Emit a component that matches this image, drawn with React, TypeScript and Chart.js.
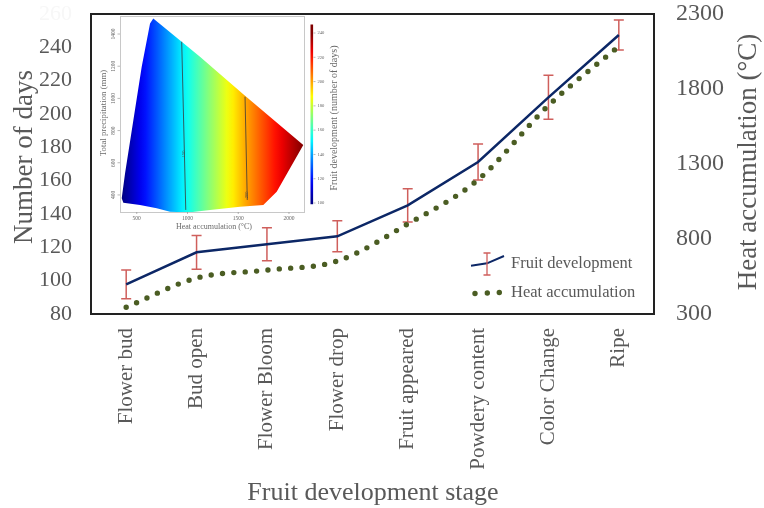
import React, { useEffect, useRef } from 'react';
import { Chart, registerables } from 'chart.js';

Chart.register(...registerables);

// ---------- main chart data ----------
const stages = ['Flower bud', 'Bud open', 'Flower Bloom', 'Flower drop', 'Fruit appeared', 'Powdery content', 'Color Change', 'Ripe'];
const fruitDays = [97.8, 117, 121.8, 126.6, 145.2, 171.2, 210, 247.4];
const fruitErr = [8.6, 10.1, 9.9, 9.3, 10, 10.8, 13.2, 9];
const heatAcc = [345, 540, 593, 653, 900, 1195, 1690, 2085];
const daysRange = [80, 260];
const daysStep = 20;
const heatRange = [300, 2300];
const heatStep = 500;

// ---------- inset (heat map) data ----------
const insetHeatRange = [335, 2148];
const insetPrecipRange = [294, 1512];
const insetHeatTicks = [500, 1000, 1500, 2000];
const insetPrecipTicks = [400, 600, 800, 1000, 1200, 1400];
const regionHeat = [663, 1123, 1567, 2141, 1879, 1747, 1517, 1222, 1025, 828, 697, 532, 368, 352, 385, 467, 549, 631];
const regionPrecip = [1497, 1259, 1017, 711, 420, 338, 327, 307, 292, 295, 317, 338, 352, 379, 535, 866, 1197, 1466];
const contourAHeat = [943, 983];
const contourAPrecip = [1352, 307];
const contourBHeat = [1567, 1589];
const contourBPrecip = [1010, 369];
const contourLabels = ['150', '200'];
const contourLabelHeat = [968, 1586];
const contourLabelPrecip = [655, 400];
const anchorDays = [100, 150, 200, 240];
const anchorHeat = [352, 943, 1578, 2141];
const colorbarTicks = [100, 120, 140, 160, 180, 200, 220, 240];
const colorbarLimits = [99, 247];

const SERIF = '"Liberation Serif", "Times New Roman", serif';
const GRAY = '#595959';
const NAVY = '#0c2766';
const OLIVE = '#4b5d23';
const ERR = '#cf5f5c';

function jet(t: number) {
  const c = (v: number) => Math.round(255 * Math.max(0, Math.min(1, v)));
  return `rgb(${c(1.5 - Math.abs(4 * t - 3))},${c(1.5 - Math.abs(4 * t - 2))},${c(1.5 - Math.abs(4 * t - 1))})`;
}

function heatForDays(d: number) {
  for (let i = 0; i < anchorDays.length - 1; i++) {
    if (d <= anchorDays[i + 1]) {
      const f = (d - anchorDays[i]) / (anchorDays[i + 1] - anchorDays[i]);
      return anchorHeat[i] + f * (anchorHeat[i + 1] - anchorHeat[i]);
    }
  }
  return anchorHeat[anchorHeat.length - 1];
}

function regionGradient(chart: any) {
  const { ctx, chartArea, scales } = chart;
  if (!chartArea || !scales.x) return '#0000ff';
  const h0 = anchorHeat[0];
  const h1 = anchorHeat[anchorHeat.length - 1];
  const p0 = scales.x.getPixelForValue(h0);
  const p1 = scales.x.getPixelForValue(h1);
  const g = ctx.createLinearGradient(p0, 0, p1, 0);
  const d0 = colorbarTicks[0];
  const d1 = colorbarTicks[colorbarTicks.length - 1];
  const n = 28;
  for (let i = 0; i <= n; i++) {
    const d = d0 + ((d1 - d0) * i) / n;
    const h = heatForDays(d);
    g.addColorStop(Math.max(0, Math.min(1, (h - h0) / (h1 - h0))), jet((d - d0) / (d1 - d0)));
  }
  return g;
}

const mainPlugin = {
  id: 'mainDecor',
  beforeDatasetsDraw(chart: any) {
    const { ctx, scales } = chart;
    const xs = scales.x;
    const ys = scales.y;
    ctx.save();
    ctx.strokeStyle = ERR;
    ctx.lineWidth = 1.5;
    fruitDays.forEach((v, i) => {
      const x = xs.getPixelForValue(i);
      const yt = ys.getPixelForValue(v + fruitErr[i]);
      const yb = ys.getPixelForValue(v - fruitErr[i]);
      ctx.beginPath();
      ctx.moveTo(x, yt);
      ctx.lineTo(x, yb);
      ctx.moveTo(x - 5, yt);
      ctx.lineTo(x + 5, yt);
      ctx.moveTo(x - 5, yb);
      ctx.lineTo(x + 5, yb);
      ctx.stroke();
    });
    ctx.restore();
  },
  afterDraw(chart: any) {
    const { ctx, chartArea: a } = chart;
    ctx.save();
    // frame
    ctx.strokeStyle = '#222';
    ctx.lineWidth = 2;
    ctx.strokeRect(a.left, a.top, a.right - a.left, a.bottom - a.top);

    // axis titles
    ctx.fillStyle = GRAY;
    ctx.textAlign = 'center';
    ctx.textBaseline = 'middle';
    ctx.font = `27px ${SERIF}`;
    ctx.save();
    ctx.translate(25, 157);
    ctx.rotate(-Math.PI / 2);
    ctx.fillText('Number of days', 0, 0);
    ctx.restore();
    ctx.save();
    ctx.translate(749, 162);
    ctx.rotate(-Math.PI / 2);
    ctx.fillText('Heat accumulation (°C)', 0, 0);
    ctx.restore();
    ctx.font = `26px ${SERIF}`;
    ctx.fillText('Fruit development stage', 373, 493);

    // legend
    ctx.strokeStyle = NAVY;
    ctx.lineWidth = 2;
    ctx.beginPath();
    ctx.moveTo(471, 265.7);
    ctx.lineTo(487, 263.3);
    ctx.lineTo(504, 256);
    ctx.stroke();
    ctx.strokeStyle = ERR;
    ctx.lineWidth = 1.3;
    ctx.beginPath();
    ctx.moveTo(487, 253);
    ctx.lineTo(487, 275);
    ctx.moveTo(483.5, 253);
    ctx.lineTo(490.5, 253);
    ctx.moveTo(483.5, 275);
    ctx.lineTo(490.5, 275);
    ctx.stroke();
    ctx.fillStyle = OLIVE;
    [[475, 293.5], [487.3, 293], [499.3, 292.5]].forEach(([x, y]) => {
      ctx.beginPath();
      ctx.arc(x, y, 2.7, 0, Math.PI * 2);
      ctx.fill();
    });
    ctx.fillStyle = GRAY;
    ctx.textAlign = 'left';
    ctx.font = `16.5px ${SERIF}`;
    ctx.fillText('Fruit development', 511, 264);
    ctx.fillText('Heat accumulation', 511, 292.5);
    ctx.restore();
  },
};

const insetPlugin = {
  id: 'insetDecor',
  afterDraw(chart: any) {
    const { ctx, chartArea: a, scales } = chart;
    const xs = scales.x;
    const ys = scales.y;
    const cb = scales.cb;
    ctx.save();
    ctx.strokeStyle = '#c8c8c8';
    ctx.lineWidth = 1;
    ctx.strokeRect(a.left + 0.5, a.top + 0.5, a.right - a.left, a.bottom - a.top);

    ctx.fillStyle = '#666';
    ctx.strokeStyle = '#888';
    ctx.lineWidth = 0.6;
    // x ticks
    ctx.font = `5.5px ${SERIF}`;
    ctx.textAlign = 'center';
    ctx.textBaseline = 'top';
    insetHeatTicks.forEach((v) => {
      const x = xs.getPixelForValue(v);
      ctx.fillText(String(v), x, a.bottom + 3.5);
      ctx.beginPath();
      ctx.moveTo(x, a.bottom);
      ctx.lineTo(x, a.bottom + 2);
      ctx.stroke();
    });
    // y ticks
    insetPrecipTicks.forEach((v) => {
      const y = ys.getPixelForValue(v);
      ctx.beginPath();
      ctx.moveTo(a.left - 2.5, y);
      ctx.lineTo(a.left, y);
      ctx.stroke();
      ctx.save();
      ctx.translate(a.left - 4, y);
      ctx.rotate(-Math.PI / 2);
      ctx.textAlign = 'center';
      ctx.textBaseline = 'bottom';
      ctx.fillText(String(v), 0, 0);
      ctx.restore();
    });
    // titles
    ctx.fillStyle = '#6a6a6a';
    ctx.font = `8px ${SERIF}`;
    ctx.textAlign = 'center';
    ctx.textBaseline = 'middle';
    ctx.fillText('Heat accumulation (°C)', (a.left + a.right) / 2 + 2, a.bottom + 15);
    ctx.save();
    ctx.font = `8.8px ${SERIF}`;
    ctx.translate(9, (a.top + a.bottom) / 2 - 1);
    ctx.rotate(-Math.PI / 2);
    ctx.fillText('Total precipitation (mm)', 0, 0);
    ctx.restore();

    // contour labels
    ctx.font = `4.5px ${SERIF}`;
    contourLabels.forEach((t, i) => {
      const x = xs.getPixelForValue(contourLabelHeat[i]);
      const y = ys.getPixelForValue(contourLabelPrecip[i]);
      ctx.save();
      ctx.translate(x, y);
      ctx.rotate(-Math.PI / 2);
      ctx.fillStyle = '#444';
      ctx.fillText(t, 0, 0);
      ctx.restore();
    });

    // colorbar
    const top = cb.getPixelForValue(colorbarLimits[1]);
    const bot = cb.getPixelForValue(colorbarLimits[0]);
    const g = ctx.createLinearGradient(0, bot, 0, top);
    const d0 = colorbarTicks[0];
    const d1 = colorbarTicks[colorbarTicks.length - 1];
    for (let i = 0; i <= 20; i++) {
      const d = colorbarLimits[0] + ((colorbarLimits[1] - colorbarLimits[0]) * i) / 20;
      g.addColorStop(i / 20, jet(Math.max(0, Math.min(1, (d - d0) / (d1 - d0)))));
    }
    const bx = a.right + 6.5;
    ctx.fillStyle = g;
    ctx.fillRect(bx, top, 2.6, bot - top);
    ctx.fillStyle = '#666';
    ctx.font = `4.6px ${SERIF}`;
    ctx.textAlign = 'left';
    colorbarTicks.forEach((v) => {
      const y = cb.getPixelForValue(v);
      ctx.beginPath();
      ctx.moveTo(bx + 3, y);
      ctx.lineTo(bx + 5, y);
      ctx.stroke();
      ctx.fillText(String(v), bx + 7, y);
    });
    ctx.save();
    ctx.fillStyle = '#6a6a6a';
    ctx.font = `10px ${SERIF}`;
    ctx.textAlign = 'center';
    ctx.translate(a.right + 30, cb.getPixelForValue(170));
    ctx.rotate(-Math.PI / 2);
    ctx.fillText('Fruit development (number of days)', 0, 0);
    ctx.restore();
    ctx.restore();
  },
};

function zeroPad(s: any) {
  s.paddingTop = 0;
  s.paddingBottom = 0;
  s.paddingLeft = 0;
  s.paddingRight = 0;
}

export default function App() {
  const mainRef = useRef<HTMLCanvasElement>(null);
  const insetRef = useRef<HTMLCanvasElement>(null);

  useEffect(() => {
    const main = new Chart(mainRef.current as HTMLCanvasElement, {
      type: 'line',
      data: {
        labels: stages,
        datasets: [
          {
            label: 'Fruit development',
            data: fruitDays,
            yAxisID: 'y',
            borderColor: NAVY,
            borderWidth: 2.5,
            pointRadius: 0,
            tension: 0,
            order: 1,
          },
          {
            label: 'Heat accumulation',
            data: heatAcc,
            yAxisID: 'y1',
            borderColor: OLIVE,
            borderWidth: 5.4,
            borderDash: [0, 11.4],
            borderCapStyle: 'round',
            pointRadius: 0,
            cubicInterpolationMode: 'monotone',
            order: 2,
          },
        ],
      },
      options: {
        responsive: false,
        animation: false,
        layout: { padding: { top: 14, left: 0, right: 0, bottom: 0 } },
        plugins: { legend: { display: false }, tooltip: { enabled: false } },
        scales: {
          x: {
            type: 'category',
            offset: true,
            grid: { display: false, drawTicks: false },
            border: { display: false },
            ticks: {
              autoSkip: false,
              minRotation: 90,
              maxRotation: 90,
              padding: 14,
              color: GRAY,
              font: { family: SERIF, size: 21 },
            },
            afterFit: (s: any) => {
              s.height = 194;
              zeroPad(s);
            },
          },
          y: {
            position: 'left',
            min: daysRange[0],
            max: daysRange[1],
            grid: { display: false, drawTicks: false },
            border: { display: false },
            ticks: {
              stepSize: daysStep,
              padding: 19,
              callback: (v: any) => String(v),
              color: (c: any) => (c.tick && c.tick.value === daysRange[1] ? '#f7f7f7' : GRAY),
              font: { family: SERIF, size: 22 },
            },
            afterFit: (s: any) => {
              s.width = 91;
              zeroPad(s);
            },
          },
          y1: {
            position: 'right',
            min: heatRange[0],
            max: heatRange[1],
            grid: { display: false, drawTicks: false },
            border: { display: false },
            ticks: {
              stepSize: heatStep,
              padding: 22,
              callback: (v: any) => String(v),
              color: GRAY,
              font: { family: SERIF, size: 24 },
            },
            afterFit: (s: any) => {
              s.width = 110;
              zeroPad(s);
            },
          },
        },
      },
      plugins: [mainPlugin],
    } as any);

    const inset = new Chart(insetRef.current as HTMLCanvasElement, {
      type: 'line',
      data: {
        datasets: [
          {
            data: regionHeat.map((h, i) => ({ x: h, y: regionPrecip[i] })),
            fill: 'shape',
            backgroundColor: (c: any) => regionGradient(c.chart),
            borderWidth: 0,
            borderColor: 'rgba(0,0,0,0)',
            pointRadius: 0,
            order: 2,
          },
          {
            data: contourAHeat.map((h, i) => ({ x: h, y: contourAPrecip[i] })),
            borderColor: '#3a3a3a',
            borderWidth: 0.8,
            pointRadius: 0,
            fill: false,
            order: 1,
          },
          {
            data: contourBHeat.map((h, i) => ({ x: h, y: contourBPrecip[i] })),
            borderColor: '#3a3a3a',
            borderWidth: 0.8,
            pointRadius: 0,
            fill: false,
            order: 1,
          },
        ],
      },
      options: {
        responsive: false,
        animation: false,
        layout: { padding: { left: 25, right: 41, top: 1, bottom: 23 } },
        plugins: { legend: { display: false }, tooltip: { enabled: false } },
        scales: {
          x: { type: 'linear', min: insetHeatRange[0], max: insetHeatRange[1], display: false },
          y: { type: 'linear', min: insetPrecipRange[0], max: insetPrecipRange[1], display: false },
          cb: { type: 'linear', position: 'right', min: 92.6, max: 254, display: false },
        },
      },
      plugins: [insetPlugin],
    } as any);

    return () => {
      main.destroy();
      inset.destroy();
    };
  }, []);

  return (
    <div style={{ position: 'absolute', left: 0, top: 0, width: 764, height: 508, background: '#fff' }}>
      <canvas ref={mainRef} width={764} height={508} style={{ position: 'absolute', left: 0, top: 0 }} />
      <canvas
        ref={insetRef}
        width={250}
        height={220}
        style={{ position: 'absolute', left: 95, top: 15, pointerEvents: 'none' }}
      />
    </div>
  );
}
